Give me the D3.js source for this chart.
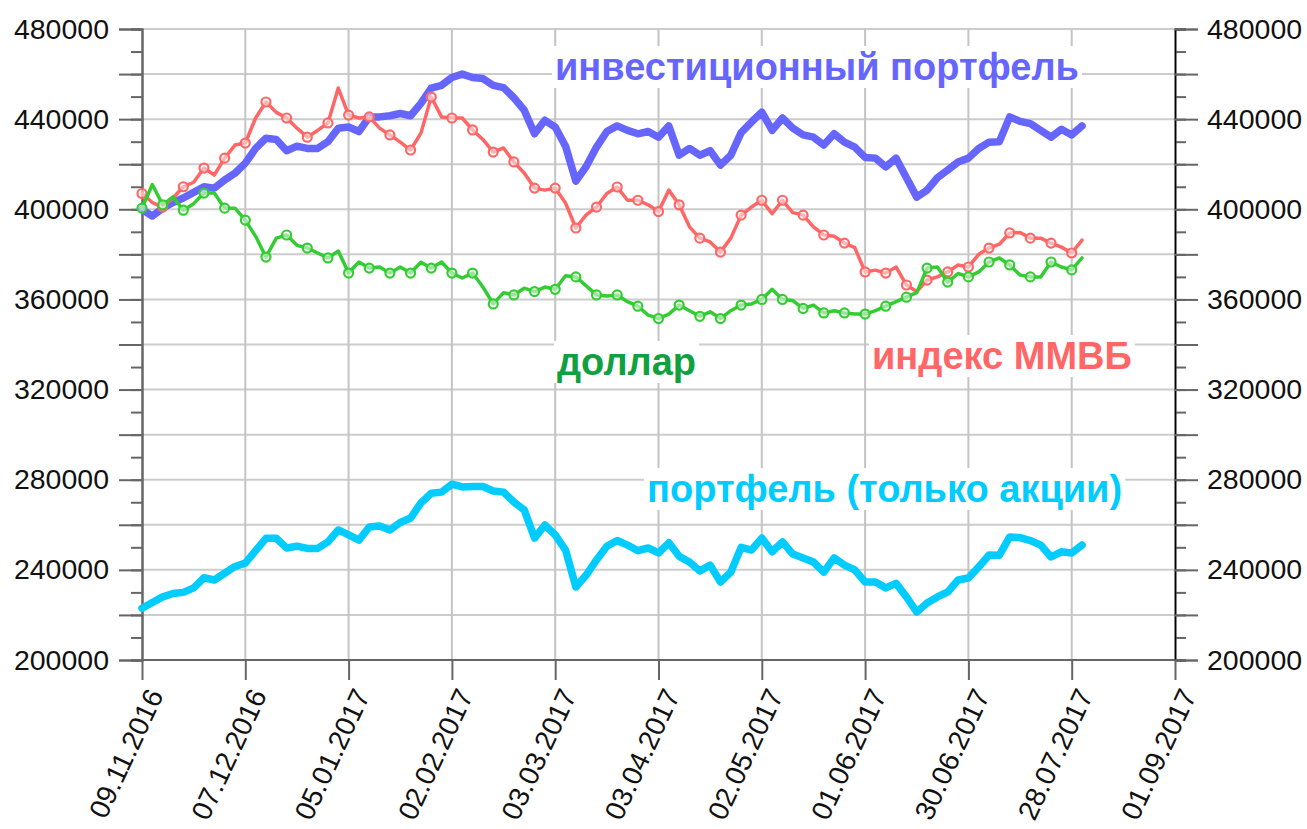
<!DOCTYPE html>
<html>
<head>
<meta charset="utf-8">
<script src="https://cdn.jsdelivr.net/npm/d3@7/dist/d3.min.js"></script>
<style>
  body { margin: 0; background: #fff; }
  text { font-family: "Liberation Sans", Arial, sans-serif; }
</style>
</head>
<body>
<div id="container"></div>
<script>
/* CONSTANTS AND GLOBALS */
const width = 1307,
  height = 829,
  margin = { top: 29, bottom: 169, left: 142, right: 132 };

/* DATA */
// trading day index (every 2nd trading day)
const days = [0, 2, 4, 6, 8, 10, 12, 14, 16, 18, 20, 22, 24, 26, 28, 30, 32, 34, 36, 38,
  40, 42, 44, 46, 48, 50, 52, 54, 56, 58, 60, 62, 64, 66, 68, 70, 72, 74, 76, 78,
  80, 82, 84, 86, 88, 90, 92, 94, 96, 98, 100, 102, 104, 106, 108, 110, 112, 114, 116, 118,
  120, 122, 124, 126, 128, 130, 132, 134, 136, 138, 140, 142, 144, 146, 148, 150, 152, 154, 156, 158,
  160, 162, 164, 166, 168, 170, 172, 174, 176, 178, 180, 182];

// инвестиционный портфель
const portfolio = [400000, 397000, 400500, 403000, 405000, 407500, 410000, 409400, 413000, 416000,
  420500, 427000, 431500, 431000, 426000, 428000, 427000, 427000, 430000, 436000,
  436500, 434500, 441000, 441000, 441500, 442500, 441500, 447000, 453800, 455000,
  458500, 460000, 458500, 458000, 455000, 454000, 449500, 444000, 433500, 439500,
  436500, 428000, 412500, 419000, 427600, 434500, 437000, 435000, 433500, 434500,
  432000, 437000, 424000, 427000, 424000, 426000, 419600, 424000, 434000, 438700,
  443100, 435000, 440500, 436000, 433000, 432000, 428500, 433500, 429800, 427600,
  423000, 422700, 418800, 422700, 414000, 405400, 408500, 414000, 417400, 421000,
  422700, 427000, 429800, 430000, 441000, 439000, 438000, 435000, 432000, 435500,
  433000, 437000];

// портфель (только акции)
const stocksOnly = [223000, 225500, 228000, 229500, 230000, 232000, 236500, 235500, 238500, 241500,
  243000, 248500, 254000, 254000, 249700, 250500, 249500, 249500, 252400, 257700,
  255500, 253200, 259000, 259500, 257700, 261000, 263000, 269700, 274000, 274500,
  278000, 276800, 277000, 277000, 275000, 274500, 270100, 266600, 254100, 259900,
  255500, 248800, 232400, 237700, 244400, 250500, 253000, 251000, 248500, 249700,
  247500, 252000, 246000, 243500, 239500, 242100, 234600, 239000, 250000, 248800,
  254100, 248000, 252400, 247000, 245300, 243500, 239000, 245300, 242100, 240000,
  234600, 234600, 232000, 234000, 228000, 221300, 225300, 228000, 230200, 235500,
  236400, 241300, 246600, 246500, 254600, 254300, 253000, 251000, 245700, 248000,
  247500, 251000];

// индекс ММВБ
const micex = [407000, 403000, 401000, 405000, 410000, 412000, 418300, 415200, 422700, 428500,
  429400, 440500, 447600, 443000, 440500, 436000, 432000, 435000, 438300, 453800,
  441800, 440500, 441000, 436000, 433000, 429800, 426300, 433800, 449800, 441000,
  440500, 440500, 435200, 431000, 425400, 427200, 421000, 416100, 409400, 408500,
  409400, 402800, 391700, 397500, 401000, 407000, 409900, 404000, 404000, 402000,
  399000, 408500, 402000, 392200, 387200, 385500, 381000, 387200, 397400, 401000,
  404000, 398000, 404000, 398500, 397400, 392200, 388600, 388000, 385000, 383000,
  372200, 373000, 371700, 374400, 366400, 363500, 368600, 370000, 372200, 375300,
  374400, 380000, 382800, 384500, 389500, 389700, 387200, 387200, 385000, 383200,
  380600, 386300];

// доллар
const dollar = [400500, 411000, 402000, 405500, 399600, 402500, 407200, 407200, 400500, 400500,
  395200, 388000, 378800, 387200, 388600, 384000, 382800, 380600, 378400, 381500,
  371700, 376600, 373900, 374400, 371700, 374400, 371700, 376500, 373900, 376600,
  371700, 369500, 371700, 365500, 358000, 363000, 362000, 365000, 363500, 365500,
  364500, 370500, 370000, 366000, 362000, 361500, 362000, 359000, 357000, 353000,
  351500, 353500, 357500, 355000, 352500, 354500, 351500, 355000, 357500, 358000,
  360000, 364500, 360000, 359500, 356000, 357500, 354000, 355000, 354000, 353500,
  353500, 355000, 357000, 359000, 361000, 363000, 373900, 374400, 367700, 371500,
  370000, 372200, 376600, 378400, 375300, 370800, 370000, 370000, 376600, 374400,
  373100, 378400];

// x axis ticks (every 20 trading days)
const tickDays = [0, 20, 40, 60, 80, 100, 120, 140, 160, 180, 200];
const tickDates = ["09.11.2016", "07.12.2016", "05.01.2017", "02.02.2017", "03.03.2017",
  "03.04.2017", "02.05.2017", "01.06.2017", "30.06.2017", "28.07.2017", "01.09.2017"];

/* SCALES */
const xScale = d3.scaleLinear()
  .domain([0, 200])
  .range([margin.left, width - margin.right]);

const yScale = d3.scaleLinear()
  .domain([200000, 480000])
  .range([height - margin.bottom, margin.top]);

const minorTicks = d3.range(200000, 480001, 10000);
const majorTicks = d3.range(200000, 480001, 20000);

/* HTML ELEMENTS */
const svg = d3.select("#container")
  .append("svg")
  .attr("width", width)
  .attr("height", height);

// grid
const grid = svg.append("g");
grid.selectAll(".hgrid")
  .data(majorTicks)
  .join("line")
  .attr("x1", xScale(0))
  .attr("x2", xScale(200))
  .attr("y1", d => yScale(d))
  .attr("y2", d => yScale(d))
  .attr("stroke", "#cccccc")
  .attr("stroke-width", 2);
grid.selectAll(".vgrid")
  .data(tickDays.slice(1, -1))
  .join("line")
  .attr("x1", d => xScale(d))
  .attr("x2", d => xScale(d))
  .attr("y1", yScale(480000))
  .attr("y2", yScale(200000))
  .attr("stroke", "#c4c4c4")
  .attr("stroke-width", 2);

// series labels with white background
const labels = [
  { text: "инвестиционный портфель", color: "#6666ff", x: 555, y: 80 },
  { text: "доллар", color: "#10a040", x: 557, y: 375 },
  { text: "индекс ММВБ", color: "#ff6666", x: 872, y: 369 },
  { text: "портфель (только акции)", color: "#00ccff", x: 647, y: 502 }
];
const labelG = svg.append("g");
labels.forEach(l => {
  const g = labelG.append("g");
  const t = g.append("text")
    .attr("x", l.x)
    .attr("y", l.y)
    .attr("fill", l.color)
    .attr("font-size", 38)
    .attr("font-weight", "bold")
    .text(l.text);
  const bb = t.node().getBBox();
  g.insert("rect", "text")
    .attr("x", bb.x - 3)
    .attr("y", bb.y)
    .attr("width", bb.width + 6)
    .attr("height", bb.height)
    .attr("fill", "#fff");
});

// axes
const axisStyle = sel => {
  sel.selectAll("path").attr("stroke", "#666").attr("stroke-width", 2);
  sel.selectAll("line").attr("stroke", "#666").attr("stroke-width", 2);
  sel.selectAll("text").attr("font-size", 28.5).attr("fill", "#111")
    .attr("font-family", "'Liberation Sans', Arial, sans-serif");
};

// minor ticks
svg.append("g")
  .attr("transform", `translate(${margin.left},0)`)
  .call(d3.axisLeft(yScale).tickValues(minorTicks).tickSize(11).tickFormat(""))
  .call(axisStyle);
svg.append("g")
  .attr("transform", `translate(${width - margin.right},0)`)
  .call(d3.axisRight(yScale).tickValues(minorTicks).tickSize(11).tickFormat(""))
  .call(axisStyle);

// major ticks + labels
const yFmt = d => d % 40000 === 0 ? d : "";
svg.append("g")
  .attr("transform", `translate(${margin.left},0)`)
  .call(d3.axisLeft(yScale).tickValues(majorTicks).tickSize(23).tickPadding(10).tickFormat(yFmt))
  .call(axisStyle);
const rightAxis = svg.append("g")
  .attr("transform", `translate(${width - margin.right},0)`)
  .call(d3.axisRight(yScale).tickValues(majorTicks).tickSize(23).tickPadding(9).tickFormat(yFmt))
  .call(axisStyle);
rightAxis.select("path").attr("stroke", "#000").attr("stroke-width", 1.5);

// bottom axis
const xAxis = svg.append("g")
  .attr("transform", `translate(0,${height - margin.bottom})`)
  .call(d3.axisBottom(xScale).tickValues(tickDays).tickSize(20).tickSizeOuter(0).tickFormat(""))
  .call(axisStyle);
xAxis.select("path").attr("d", `M${margin.left},0H${width - margin.right}`);

svg.append("g")
  .selectAll("text")
  .data(tickDays)
  .join("text")
  .attr("transform", d => `translate(${xScale(d) + 22},${height - margin.bottom + 35}) rotate(-65)`)
  .attr("text-anchor", "end")
  .attr("font-size", 28)
  .attr("fill", "#111")
  .text((d, i) => tickDates[i]);

/* DRAW LINES */
const series = [
  { name: "stocks", values: stocksOnly, color: "#00ccff", width: 7.5, markers: false },
  { name: "portfolio", values: portfolio, color: "#6666ff", width: 7.5, markers: false },
  { name: "micex", values: micex, color: "#ff6666", width: 3.5, markers: true },
  { name: "dollar", values: dollar, color: "#33cc33", width: 3.5, markers: true }
];

const line = d3.line()
  .x(d => xScale(d.day))
  .y(d => yScale(d.value))
  .curve(d3.curveLinear);

series.forEach(s => {
  const pts = days.map((d, i) => ({ day: d, value: s.values[i] }));
  svg.append("path")
    .datum(pts)
    .attr("fill", "none")
    .attr("stroke", s.color)
    .attr("stroke-width", s.width)
    .attr("stroke-linejoin", "round")
    .attr("stroke-linecap", "round")
    .attr("d", line);
  if (s.markers) {
    svg.append("g")
      .selectAll("circle")
      .data(pts.filter(p => p.day % 4 === 0))
      .join("circle")
      .attr("cx", d => xScale(d.day))
      .attr("cy", d => yScale(d.value))
      .attr("r", 4.5)
      .attr("fill", "#fff")
      .attr("fill-opacity", 0.5)
      .attr("stroke", s.color)
      .attr("stroke-width", 2.2);
  }
});
</script>
</body>
</html>
